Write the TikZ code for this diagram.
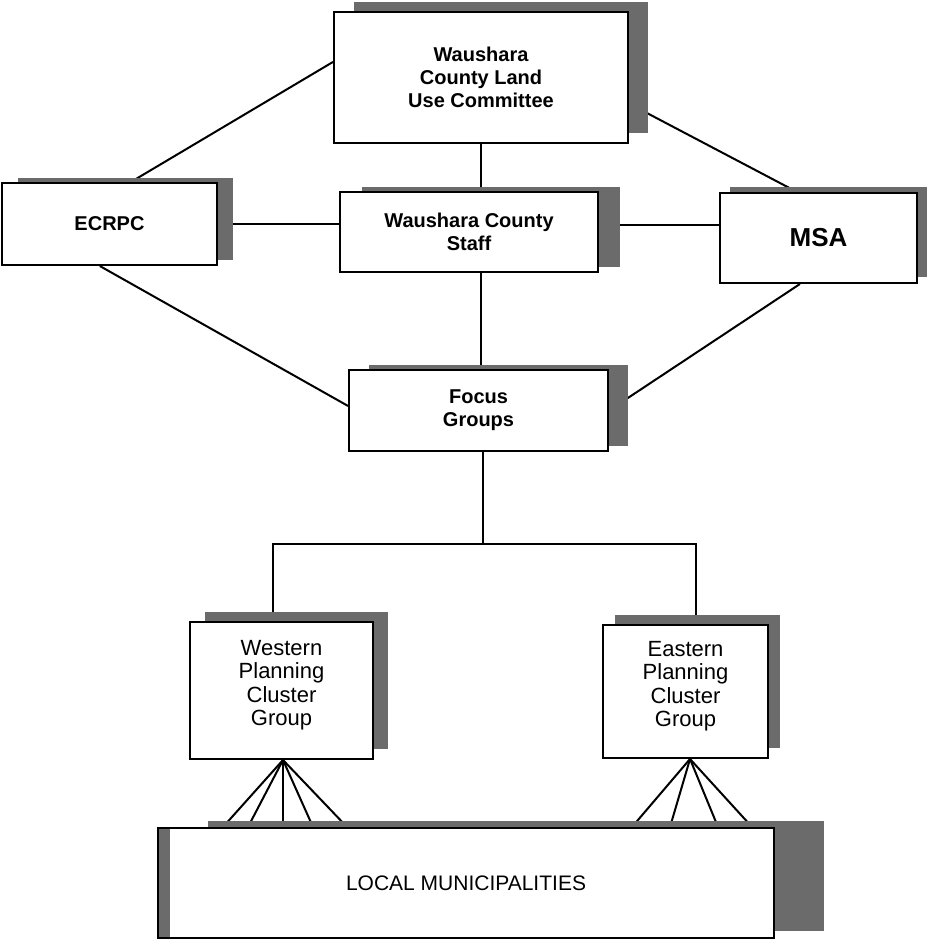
\documentclass[tikz,border=0pt]{standalone}
\usepackage{fontspec}
\setmainfont{Liberation Sans}
\usetikzlibrary{shadows, backgrounds}

\begin{document}
\begin{tikzpicture}[
    x=0.5pt, y=-0.5pt,
    unitbox/.style={draw, rectangle, fill=white, line width=1pt, align=center,
        font=\bfseries\fontsize{10}{11.5}\selectfont},
    backshadow/.style 2 args={drop shadow={shadow xshift=#1, shadow yshift=#2,
        fill=black!58, opacity=1}},
    cluster/.style={font=\fontsize{11}{11.7}\selectfont},
    wire/.style={line width=1pt}
]
\useasboundingbox (0,0) rectangle (934,945);

% Top level
\node[unitbox, minimum width=147pt, minimum height=65.5pt, backshadow={10pt}{5pt}]
    (lucom) at (481,77.5) {Waushara\\County Land\\Use Committee};

% Middle row
\node[unitbox, minimum width=107.5pt, minimum height=41pt, backshadow={8pt}{2.5pt}]
    (ecrpc) at (109.5,224) {ECRPC};
\node[unitbox, minimum width=129pt, minimum height=40pt, backshadow={11pt}{2.5pt}]
    (staff) at (469,232) {Waushara County\\Staff};
\node[unitbox, minimum width=98.5pt, minimum height=45pt, backshadow={5pt}{3pt},
      font=\bfseries\fontsize{13}{15}\selectfont]
    (msa) at (818.5,238) {MSA};

\node[unitbox, minimum width=129.5pt, minimum height=40.5pt, backshadow={10pt}{2.5pt}]
    (focus) at (478.5,410.5) {Focus\\Groups};

% Cluster groups
\node[unitbox, cluster, minimum width=91.5pt, minimum height=68.5pt, backshadow={7.5pt}{5pt}]
    (west) at (281.5,690.5) {Western\\Planning\\Cluster\\Group\\[-4pt]};
\node[unitbox, cluster, minimum width=82.5pt, minimum height=66.5pt, backshadow={6pt}{5pt}]
    (east) at (685.5,691.5) {Eastern\\Planning\\Cluster\\Group\\[-4pt]};

\node[unitbox, minimum width=308pt, minimum height=55pt, backshadow={25pt}{3.5pt},
      font=\fontsize{10.5}{12}\selectfont,
      path picture={\fill[black!58] (path picture bounding box.north west)
          rectangle ([xshift=6pt]path picture bounding box.south west);}]
    (local) at (466,883) {LOCAL MUNICIPALITIES};

% Connectors behind the boxes
\begin{pgfonlayer}{background}
\draw[wire] (lucom.174) -- (ecrpc.63);
\draw[wire] (lucom.350) -- (msa.115);
\draw[wire] (lucom.south) -- (lucom.south |- staff.north);
\draw[wire] (ecrpc.east) -- (ecrpc.east -| staff.west);
\draw[wire] (staff.3) -- (staff.3 -| msa.west);
\draw[wire] (ecrpc.257) -- (focus.178);
\draw[wire] (msa.248) -- (focus.east);
\draw[wire] (lucom.south |- staff.south) -- (lucom.south |- focus.north);

% Branch to the clusters
\coordinate (fork) at (483,544);
\draw[wire] (focus.south -| fork) -- (fork);
\draw[wire] (fork) -| ([xshift=-4.5pt]west.north);
\draw[wire] (fork) -| ([xshift=5.25pt]east.north);

% Fans down to the municipalities
\foreach \x in {223,248,283,313,347}
    \draw[wire] ([xshift=0.75pt]west.south) -- (\x,0 |- local.north);
\foreach \x in {632,670,718,752}
    \draw[wire] ([xshift=2.25pt]east.south) -- (\x,0 |- local.north);
\end{pgfonlayer}

\end{tikzpicture}
\end{document}
